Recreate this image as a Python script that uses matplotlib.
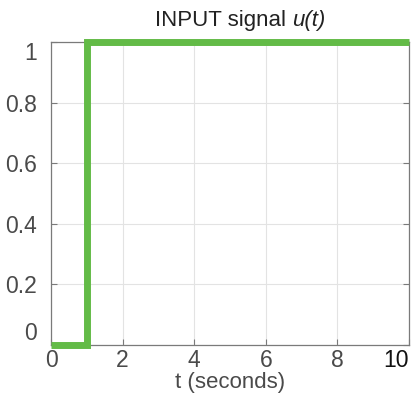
import matplotlib
matplotlib.use('Agg')
import matplotlib.pyplot as plt

plt.rcParams['font.family'] = ['Liberation Sans', 'DejaVu Sans']

# step input: 0 until t=1, then 1 up to t=10
t = [0, 1, 1, 10]
u = [0, 0, 1, 1]
x_ticks = [0, 2, 4, 6, 8, 10]
y_ticks = [0, 0.2, 0.4, 0.6, 0.8, 1]
y_labels = ['0', '0.2', '0.4', '0.6', '0.8', '1']

fig = plt.figure(figsize=(4.14, 3.99), dpi=100)
ax = fig.add_axes([0.1232, 0.1353, 0.8648, 0.7594])

ax.plot(t, u, color='#63bb47', linewidth=5, solid_joinstyle='miter',
        solid_capstyle='butt', clip_on=False, zorder=5)

ax.set_xlim(0, 10)
ax.set_ylim(0, 1)
ax.set_xticks(x_ticks)
ax.set_yticks(y_ticks)
ax.set_yticklabels(y_labels)
ax.grid(True, color='#e3e3e3', linewidth=0.8)
ax.set_axisbelow(True)

for s in ax.spines.values():
    s.set_color('#7a7a7a')
    s.set_linewidth(0.9)

ax.tick_params(direction='in', length=4, color='#7a7a7a', labelsize=16.5,
               labelcolor='#4a4a4a', top=False, right=True)
ax.tick_params(axis='x', pad=3)
ax.tick_params(axis='y', pad=10)

xl = ax.get_xticklabels()
xl[-1].set_color('#111111')
xl[-1].set_ha('right')
yl = ax.get_yticklabels()
yl[0].set_va('bottom')
yl[-1].set_va('top')

ax.set_xlabel('t (seconds)', fontsize=16, color='#4a4a4a', labelpad=0)

# title in two pieces so u(t) is fully italic
rend = fig.canvas.get_renderer()
t1 = fig.text(0, 0.948, 'INPUT signal ', fontsize=16, color='#222222',
              ha='left', va='center')
t2 = fig.text(0, 0.948, 'u(t)', fontsize=16, color='#222222',
              style='italic', ha='left', va='center')
w1 = t1.get_window_extent(rend).width
w2 = t2.get_window_extent(rend).width
fig_w = fig.dpi * fig.get_figwidth()
x0 = 240 - (w1 + w2) / 2
t1.set_x(x0 / fig_w)
t2.set_x((x0 + w1) / fig_w)

fig.savefig('out.png', dpi=100, facecolor='white')
